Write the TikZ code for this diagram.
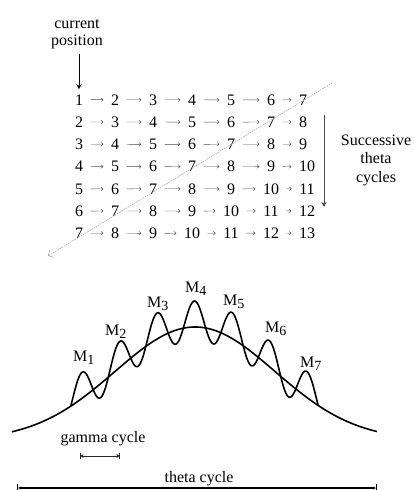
\documentclass[tikz,border=0pt]{standalone}
\usepackage{fontspec}
\setmainfont{Liberation Serif}
\usepackage{tikz}
\usetikzlibrary{arrows.meta}
\newcommand{\diagfont}{\fontsize{16}{17}\selectfont}
\newcommand{\msub}[1]{\raisebox{-3.5pt}{\fontsize{14}{14}\selectfont #1}}

\begin{document}
\begin{tikzpicture}[x=1pt, y=-1pt, >={Stealth[length=3pt,width=4pt]},
  declare function={envl(\x)=440-113*exp(-((\x-195)/113.137)^2);
                    gam(\x)=6+20*sin(9.6*(\x-82)+90);},
  numnode/.style={font=\diagfont, inner sep=1pt, anchor=base},
  steparrow/.style={-{To[length=2.5pt,width=4pt]}, gray!60!black, line width=0.45pt, shorten >=6.5pt, shorten <=6.5pt},
  lbl/.style={font=\diagfont, inner sep=0pt, align=center},
  wave/.style={line width=1.6pt, line join=round}]
  \useasboundingbox (0,0) rectangle (413,490);
  % grid of positions
  \foreach \r in {1,...,7}
    \foreach \c/\xc in {1/79,2/115,3/153,4/192,5/231,6/271,7/303}{
      \pgfmathtruncatemacro\v{\r+\c-1}
      \pgfmathsetmacro\xx{\xc+((\c==7)&&(\v>9))*4}
      \node[numnode] (n\r\c) at (\xx,{105+22.25*(\r-1)}) {\v};
    }
  \foreach \r in {1,...,7}
    \foreach \c in {1,...,6}{
      \pgfmathtruncatemacro\d{\c+1}
      \draw[steparrow] (n\r\c) -- (n\r\d);
    }
  \node[lbl, anchor=base] (curpos) at (77,45) {current\\position};
  \draw[->, line width=0.6pt, >={Stealth[length=5pt,width=5pt]}, shorten <=5pt, shorten >=4pt]
        (curpos.south -| n11) -- (n11.north);
  \coordinate (diagtop) at (332,83);
  \coordinate (diagend) at (48,256);
  \draw[-{Straight Barb[length=4pt]}, gray!80, line width=0.5pt, dash pattern=on 1.5pt off 1pt]
        (diagtop) -- (diagend);
  \coordinate (succtop) at (324,115);
  \coordinate (succend) at (324,207);
  \draw[->, gray!60!black, line width=0.6pt, >={Stealth[length=5pt,width=5pt]}] (succtop) -- (succend);
  \node[lbl, anchor=base, font=\fontsize{16}{18.5}\selectfont] (succ) at (376,182) {Successive\\theta\\cycles};
  % theta envelope and gamma wave
  \draw[wave, domain=12:377, samples=150, variable=\x] plot (\x,{envl(\x)});
  \draw[wave, domain=70.8:318, samples=300, variable=\x] plot (\x,{envl(\x)-gam(\x)});
  \foreach \k/\mx/\my in {1/73/361,2/105/335,3/147/307,4/185/292,5/223/305,6/265/332,7/300/367}
    \node[lbl, anchor=base west] (m\k) at (\mx,\my) {M\msub{\k}};
  % cycle lengths
  \node[lbl, anchor=base] (gamlbl) at (103,442) {gamma cycle};
  \coordinate (gamL) at (80,456);
  \coordinate (gamR) at (120,456);
  \draw[|<->|, gray!30!black, line width=0.6pt] (gamL) -- (gamR);
  \node[lbl, anchor=base] (thlbl) at (199,482) {theta cycle};
  \coordinate (thL) at (17,488);
  \coordinate (thR) at (377,488);
  \draw[|<->|, line width=1.2pt, >={Stealth[length=3pt,width=3pt]}] (thL) -- (thR);
\end{tikzpicture}
\end{document}
